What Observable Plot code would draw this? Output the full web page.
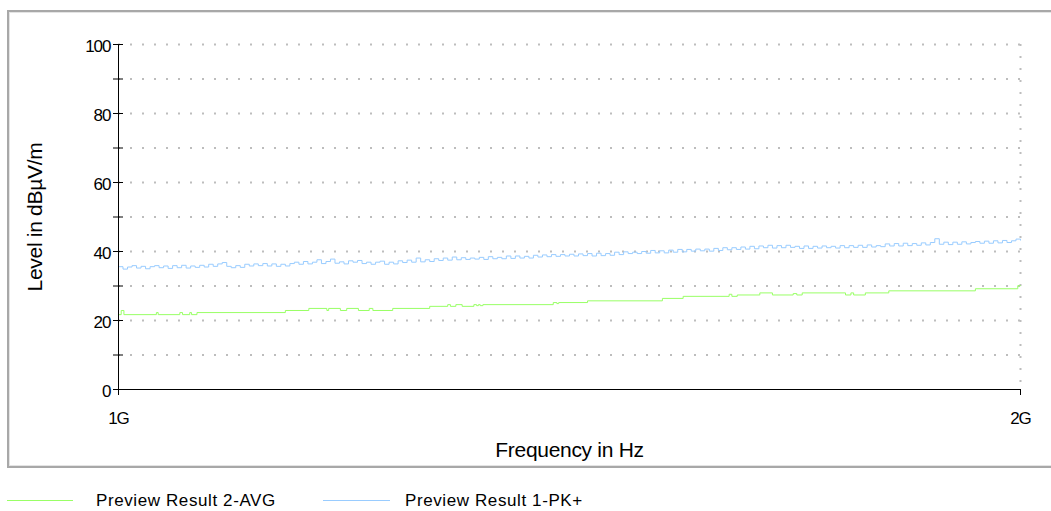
<!DOCTYPE html>
<html>
<head>
<meta charset="utf-8">
<script src="https://cdn.jsdelivr.net/npm/d3@7"></script>
<script src="https://cdn.jsdelivr.net/npm/@observablehq/plot@0.6"></script>
<style>
  html, body { margin: 0; padding: 0; overflow: hidden; background: #fff; }
  body { width: 1051px; height: 511px; position: relative; font-family: "Liberation Sans", Arial, sans-serif; }
  #frame {
    position: absolute; left: 7px; top: 10px; width: 1060px; height: 454px;
    border: 2px solid #a8a8a8; box-shadow: inset 1px 1px 0 #e4e4e4, inset -1px -1px 0 #e4e4e4;
  }
  #frame svg { position: absolute; left: 0; top: 0; }
  g[aria-label$="tick label"] text { letter-spacing: -1px; }
  g[aria-label="text"] text { letter-spacing: -0.3px; }
  .legend-line { position: absolute; top: 500px; height: 0; border-top: 1px solid; }
  .legend-text { position: absolute; top: 491px; font-size: 17px; line-height: 20px; color: #000; letter-spacing: 0.6px; white-space: nowrap; }
</style>
</head>
<body>
<div id="frame"></div>
<div class="legend-line" style="left:7px;width:66px;border-color:#99ff66"></div>
<div class="legend-text" style="left:96px">Preview Result 2-AVG</div>
<div class="legend-line" style="left:323px;width:67px;border-color:#99ccff"></div>
<div class="legend-text" style="left:405px">Preview Result 1-PK+</div>
<script>
// Peak sweep: 1000 MHz to 2000 MHz in 5 MHz steps
const sweepStartMHz = 1000;
const sweepStepMHz = 5;
const pkLevel = [
  35.6,34.9,35.5,35.9,35.2,35.7,35.0,35.6,35.9,35.3,
  35.8,35.1,35.9,35.3,36.0,35.2,35.8,35.4,36.0,35.5,
  36.3,35.7,36.4,36.8,35.7,35.3,35.9,35.4,36.3,35.8,
  36.4,35.9,36.5,35.8,36.4,35.7,36.3,35.8,36.5,36.9,
  36.3,37.1,36.4,36.9,37.6,36.5,37.1,37.8,36.6,37.0,
  36.4,37.3,36.9,37.4,36.5,36.9,36.3,36.9,37.2,36.3,
  36.9,36.4,37.3,36.8,37.5,36.9,38.1,37.0,37.6,37.1,
  37.9,37.4,38.1,37.5,38.4,37.6,38.2,37.7,38.1,37.8,
  38.3,37.7,38.5,37.9,38.3,37.9,38.7,38.0,38.7,38.1,
  38.6,38.1,38.9,38.4,39.0,38.5,39.1,38.6,39.1,38.7,
  39.2,38.7,39.3,38.8,39.4,38.7,39.5,38.8,39.4,38.9,
  39.8,39.1,39.9,39.4,39.8,39.4,40.0,39.5,40.3,39.6,
  40.2,39.6,40.4,39.8,40.6,39.9,40.6,40.1,40.7,40.2,
  40.7,40.1,40.9,40.3,41.1,40.5,41.1,40.6,41.3,40.7,
  41.5,40.8,41.6,41.1,41.8,41.0,41.7,41.1,41.8,41.2,
  41.5,40.9,41.6,40.9,41.5,41.0,41.6,41.1,41.5,41.0,
  41.7,41.1,41.7,41.2,41.8,41.2,41.9,41.3,41.7,41.4,
  42.2,41.6,42.3,41.6,42.4,41.7,42.3,41.8,42.5,41.9,
  42.6,43.7,42.1,42.7,42.0,42.7,42.1,42.8,42.2,42.6,
  42.9,42.4,43.0,42.4,43.1,42.5,43.2,42.6,43.1,43.6,
  43.3
];

// Average detector: level changes (MHz, dBµV/m)
const avgFreq = [1000,1003,1006,1042,1044,1068,1071,1079,1081,1087,1185,1211,1231,1233,1246,1253,1266,1278,1282,1304,1345,1365,1368,1374,1381,1394,1397,1399,1401,1404,1482,1486,1488,1520,1603,1626,1677,1680,1686,1711,1725,1748,1752,1758,1806,1812,1815,1828,1854,1950,1997,2000];
const avgLevel = [21.7,22.9,21.7,22.3,21.7,22.3,21.7,22.3,21.7,22.3,22.9,23.5,22.9,23.5,22.9,23.5,22.9,23.5,22.9,23.5,24.1,24.6,24.1,24.6,24.1,24.6,24.3,24.6,24.3,24.6,25.2,24.9,25.2,25.7,26.4,27.0,27.6,27.0,27.4,28.0,27.4,27.8,27.4,28.0,27.4,28.0,27.4,28.0,28.6,29.2,30.1,30.1];

const yTicks = [0, 10, 20, 30, 40, 50, 60, 70, 80, 90, 100];
const yLabelTicks = [0, 20, 40, 60, 80, 100];
const xTicks = [1000, 2000];
const xTickLabels = ["1G", "2G"];

const pk = pkLevel.map((v, i) => ({f: sweepStartMHz + i * sweepStepMHz, v}));
const avg = avgFreq.map((f, i) => ({f, v: avgLevel[i]}));

const dotted = {stroke: "#bdbdbd", strokeOpacity: 1, strokeWidth: 2, strokeDasharray: "2,10"};

const chart = Plot.plot({
  width: 1042,
  height: 454,
  marginLeft: 109,
  marginRight: 31,
  marginTop: 32,
  marginBottom: 77,
  x: {type: "linear", domain: [1000, 2000]},
  y: {domain: [0, 100]},
  style: {fontFamily: "'Liberation Sans', Arial, sans-serif", fontSize: "17px", color: "#000", background: "transparent"},
  marks: [
    Plot.gridY(yTicks.filter(d => d > 0), dotted),
    Plot.gridX([2000], dotted),
    Plot.line(avg, {x: "f", y: "v", curve: "step-after", stroke: "#99ff66", strokeWidth: 1}),
    Plot.line(pk, {x: "f", y: "v", curve: "step-after", stroke: "#99ccff", strokeWidth: 1}),
    Plot.ruleX([1000], {stroke: "#000"}),
    Plot.ruleY([0], {stroke: "#000"}),
    Plot.axisY(yTicks, {tickSize: 10, dx: 5, tickFormat: () => "", label: null}),
    Plot.axisY(yLabelTicks, {tickSize: 0, tickPadding: 8, dy: 2, label: null}),
    Plot.axisX(xTicks, {tickSize: 6, tickPadding: 16, tickFormat: d => xTickLabels[xTicks.indexOf(d)], label: null}),
    Plot.text(["Level in dBµV/m"], {frameAnchor: "left", textAnchor: "middle", rotate: -90, dx: -91, lineAnchor: "top", fontSize: 21}),
    Plot.text(["Frequency in Hz"], {frameAnchor: "bottom", textAnchor: "middle", dy: 53, lineAnchor: "top", fontSize: 21})
  ]
});
document.getElementById("frame").appendChild(chart);
</script>
</body>
</html>
